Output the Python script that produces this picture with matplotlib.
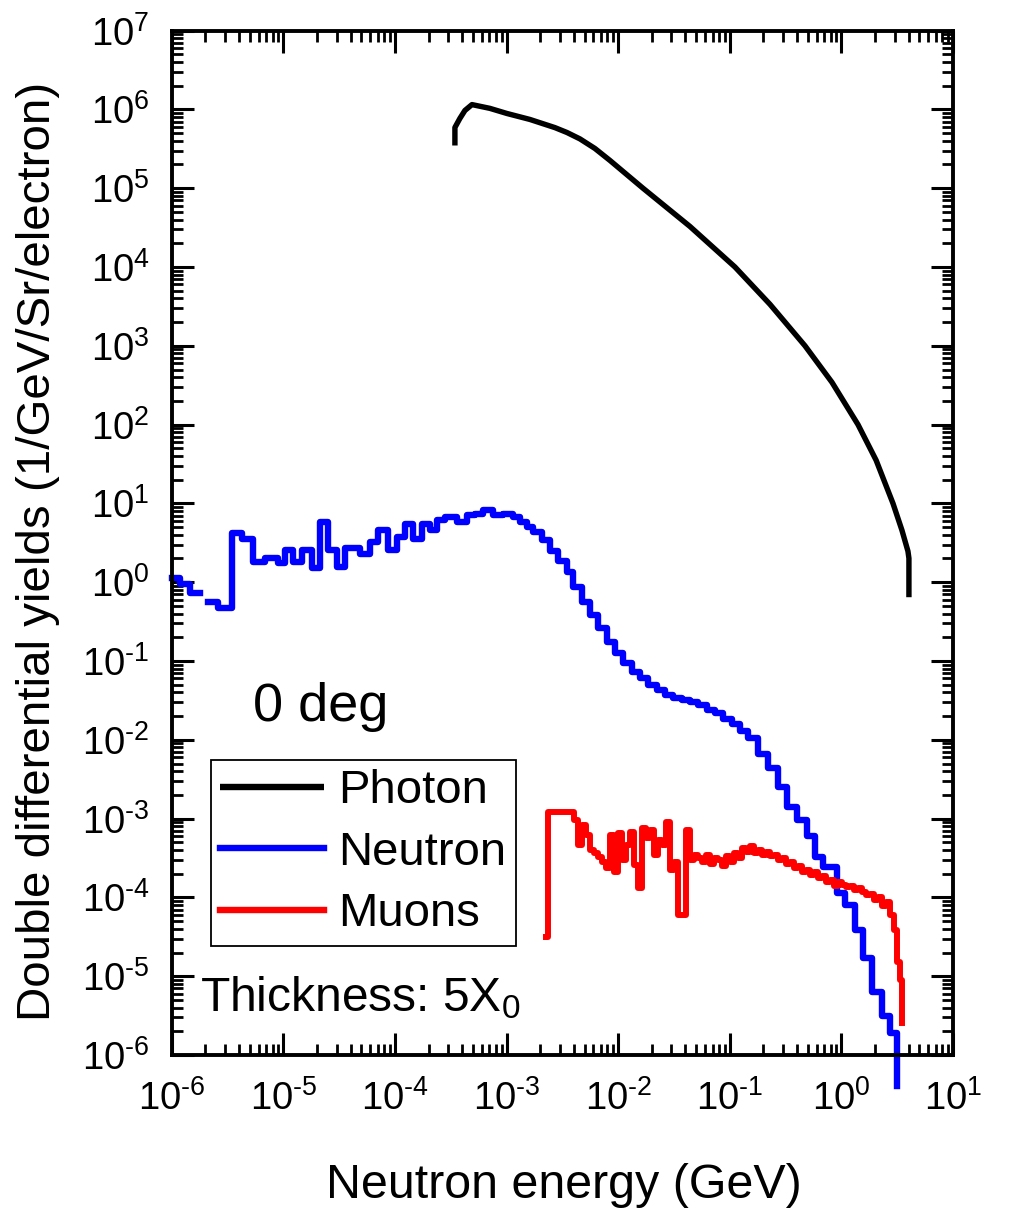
import numpy as np
import matplotlib
matplotlib.use("Agg")
import matplotlib.pyplot as plt
from matplotlib.ticker import LogLocator, FixedLocator, NullFormatter

plt.rcParams['font.family'] = ['Liberation Sans', 'DejaVu Sans']
plt.rcParams['mathtext.fontset'] = 'custom'
plt.rcParams['mathtext.rm'] = 'Liberation Sans'
plt.rcParams['mathtext.it'] = 'Liberation Sans:italic'
plt.rcParams['mathtext.bf'] = 'Liberation Sans:bold'

# ---------------- data ----------------
photon_energy = [3.44e-4, 3.44e-4, 3.81e-4, 4.23e-4, 4.89e-4, 7.08e-4, 1.006e-3, 1.617e-3,
                 2.708e-3, 3.471e-3, 4.54e-3, 6.185e-3, 8.428e-3, 1.666e-2, 4.393e-2, 0.1112,
                 0.2291, 0.4718, 0.8233, 1.409, 2.048, 2.90, 3.49, 3.95, 4.03, 4.03]
photon_yield = [3.48e5, 5.89e5, 7.67e5, 9.69e5, 1.15e6, 1.03e6, 8.87e5, 7.45e5,
                5.87e5, 5.09e5, 4.22e5, 3.19e5, 2.25e5, 1.0e5, 3.27e4, 1.0e4,
                3.36e3, 1.0e3, 344, 100, 35.3, 10.0, 4.56, 2.47, 2.01, 0.645]

neutron_energy = [1.00e-6, 1.18e-6, 1.45e-6, 1.78e-6, 2.10e-6, 2.58e-6, 3.45e-6, 4.22e-6, 5.36e-6, 6.82e-6,
                  8.91e-6, 1.03e-5, 1.22e-5, 1.46e-5, 1.80e-5, 2.12e-5, 2.50e-5, 3.01e-5, 3.56e-5, 4.84e-5,
                  5.96e-5, 7.02e-5, 8.63e-5, 1.04e-4, 1.22e-4, 1.45e-4, 1.74e-4, 2.05e-4, 2.37e-4, 2.80e-4,
                  3.58e-4, 4.41e-4, 5.20e-4, 6.14e-4, 7.53e-4, 9.27e-4, 1.14e-3, 1.32e-3, 1.52e-3, 1.72e-3,
                  2.07e-3, 2.44e-3, 2.88e-3, 3.47e-3, 3.93e-3, 4.73e-3, 5.58e-3, 6.58e-3, 7.93e-3, 9.35e-3,
                  1.10e-2, 1.33e-2, 1.57e-2, 1.85e-2, 2.22e-2, 2.62e-2, 3.09e-2, 3.72e-2, 4.40e-2, 5.18e-2,
                  6.24e-2, 7.36e-2, 8.69e-2, 0.1045, 0.123, 0.146, 0.179, 0.220, 0.270, 0.325,
                  0.400, 0.492, 0.579, 0.684, 0.912, 1.08, 1.32, 1.56, 1.88, 2.31,
                  2.73, 3.15]
neutron_yield = [1.12, 0.94, 0.72, np.nan, 0.56, 0.47, 4.15, 3.58, 1.81, 2.0,
                 1.74, 2.55, 1.81, 2.55, 1.51, 5.8, 2.55, 1.56, 2.7, 2.25,
                 3.2, 4.6, 2.55, 3.76, 5.5, 3.58, 5.5, 4.6, 6.1, 6.7,
                 5.8, 7.1, 7.4, 8.2, 7.1, 7.4, 6.7, 5.8, 5.0, 4.35,
                 3.4, 2.5, 1.85, 1.35, 0.87, 0.56, 0.38, 0.26, 0.175, 0.125,
                 0.093, 0.073, 0.060, 0.049, 0.043, 0.037, 0.0335, 0.0317, 0.030, 0.0275,
                 0.024, 0.0216, 0.0186, 0.016, 0.013, 0.0105, 0.0067, 0.0044, 0.0025, 0.0014,
                 9.5e-4, 6.1e-4, 3.3e-4, 2.46e-4, 1.13e-4, 7.9e-5, 3.9e-5, 1.7e-5, 6.3e-6, 3.1e-6,
                 1.9e-6, 4e-7]

muon_energy = [2.25e-3, 2.34e-3,
               4.010e-3, 4.355e-3, 4.729e-3, 5.136e-3, 5.578e-3, 6.058e-3, 6.579e-3, 7.145e-3, 7.762e-3, 8.428e-3,
               9.155e-3, 9.943e-3, 1.080e-2, 1.173e-2, 1.274e-2, 1.383e-2, 1.502e-2, 1.632e-2, 1.772e-2, 1.925e-2,
               2.090e-2, 2.270e-2, 2.465e-2, 2.677e-2, 2.908e-2, 3.158e-2, 3.430e-2, 3.725e-2, 4.046e-2, 4.393e-2,
               4.772e-2, 5.182e-2, 5.628e-2, 6.112e-2, 6.638e-2, 7.209e-2, 7.830e-2, 8.503e-2, 9.236e-2, 0.1003,
               0.1089, 0.1183, 0.1285, 0.1395, 0.1516, 0.1646, 0.1788, 0.1942, 0.2109, 0.2290,
               0.2487, 0.2701, 0.2934, 0.3186, 0.3460, 0.3758, 0.4081, 0.4433, 0.4814, 0.5228,
               0.5678, 0.6166, 0.6697, 0.7273, 0.7899, 0.8579, 0.9317, 1.012, 1.099, 1.193,
               1.296, 1.408, 1.529, 1.661, 1.804, 1.959, 2.128, 2.311, 2.509, 2.725,
               2.960, 3.148, 3.350, 3.491]
muon_yield = [3.15e-5, 1.21e-3,
              9.6e-4, 4.6e-4, 8.3e-4, 6.2e-4, 4.0e-4, 3.66e-4, 3.25e-4, 2.81e-4, 2.36e-4, 6.2e-4,
              2.10e-4, 6.6e-4, 2.98e-4, 4.6e-4, 6.8e-4, 2.58e-4, 1.30e-4, 7.6e-4, 5.7e-4, 7.2e-4,
              3.45e-4, 5.3e-4, 4.6e-4, 9.0e-4, 2.22e-4, 2.81e-4, 6.0e-5, 6.0e-5, 7.2e-4, 2.98e-4,
              3.45e-4, 3.16e-4, 2.81e-4, 3.45e-4, 2.65e-4, 3.16e-4, 2.98e-4, 2.50e-4, 3.35e-4, 2.81e-4,
              3.66e-4, 3.16e-4, 4.2e-4, 3.8e-4, 4.5e-4, 3.66e-4, 4.0e-4, 3.45e-4, 3.8e-4, 3.35e-4,
              3.45e-4, 2.98e-4, 3.16e-4, 2.65e-4, 2.81e-4, 2.36e-4, 2.50e-4, 2.10e-4, 2.22e-4, 1.92e-4,
              2.10e-4, 1.76e-4, 1.87e-4, 1.57e-4, 1.66e-4, 1.40e-4, 1.57e-4, 1.44e-4, 1.35e-4, 1.40e-4,
              1.24e-4, 1.32e-4, 1.17e-4, 1.07e-4, 1.10e-4, 9.3e-5, 1.01e-4, 7.8e-5, 8.7e-5, 6.0e-5,
              3.9e-5, 1.52e-5, 8.9e-6, 2.55e-6]

series_labels = ["Photon", "Neutron", "Muons"]
x_tick_exponents = [-6, -5, -4, -3, -2, -1, 0, 1]
y_tick_exponents = [-6, -5, -4, -3, -2, -1, 0, 1, 2, 3, 4, 5, 6, 7]

assert len(neutron_energy) == len(neutron_yield)
assert len(muon_energy) == len(muon_yield)
assert len(photon_energy) == len(photon_yield)


def pow_label(e):
    if e < 0:
        return r'$10^{\text{-}%d}$' % (-e)
    return r'$10^{%d}$' % e


# ---------------- figure ----------------
fig = plt.figure(figsize=(10.11, 12.18), dpi=100)
ax = fig.add_axes([0.170, 0.1338, 0.7726, 0.8411])
ax.set_xscale('log')
ax.set_yscale('log')

l1, = ax.plot(photon_energy, photon_yield, color='black', lw=3.9,
              solid_joinstyle='round', solid_capstyle='butt', label=series_labels[0])
l2, = ax.step(neutron_energy, neutron_yield, where='post', color='#0000ff', lw=4.6,
              clip_on=False, label=series_labels[1])
l3, = ax.step(muon_energy, muon_yield, where='post', color='#ff0000', lw=4.3,
              label=series_labels[2])

ax.set_xlim(1e-6, 1e1)
ax.set_ylim(1e-6, 1e7)

xt = [10.0 ** e for e in x_tick_exponents]
yt = [10.0 ** e for e in y_tick_exponents]
ax.xaxis.set_major_locator(FixedLocator(xt))
ax.yaxis.set_major_locator(FixedLocator(yt))
ax.set_xticklabels([pow_label(e) for e in x_tick_exponents])
ax.set_yticklabels([pow_label(e) for e in y_tick_exponents])
ax.xaxis.set_minor_locator(LogLocator(base=10, subs=range(2, 10), numticks=100))
ax.yaxis.set_minor_locator(LogLocator(base=10, subs=range(2, 10), numticks=100))
ax.xaxis.set_minor_formatter(NullFormatter())
ax.yaxis.set_minor_formatter(NullFormatter())

ax.tick_params(which='both', direction='in', top=True, right=True)
ax.tick_params(which='major', length=16, width=2.2, labelsize=27.5)
ax.tick_params(which='minor', length=8, width=2.0)
ax.tick_params(axis='x', which='major', pad=18)
ax.tick_params(axis='y', which='major', pad=16)

for sp in ax.spines.values():
    sp.set_linewidth(2.8)

leg = ax.legend(handles=[l1, l2, l3], loc='upper left', bbox_to_anchor=(0.05, 0.288),
                fontsize=34, frameon=True, fancybox=False, edgecolor='black',
                framealpha=1, handlelength=2.2, handletextpad=0.3, labelspacing=0.37,
                borderpad=0.2, borderaxespad=0)
leg.get_frame().set_linewidth(1.3)
for h in leg.get_lines():
    h.set_linewidth(4.6)

ax.text(0.104, 0.34, '0 deg', transform=ax.transAxes, fontsize=39, va='center', ha='left')
ax.text(0.036, 0.043, r'Thickness: 5X$_0$', transform=ax.transAxes, fontsize=34.5,
        va='baseline', ha='left')

fig.text(563.5 / 1011, 1 - 1185 / 1218, 'Neutron energy (GeV)', fontsize=34.8,
         ha='center', va='center')
fig.text(38 / 1011, 1 - 551 / 1218, 'Double differential yields (1/GeV/Sr/electron)',
         fontsize=34.2, rotation=90, ha='center', va='center')

fig.savefig('out.png', dpi=100)
